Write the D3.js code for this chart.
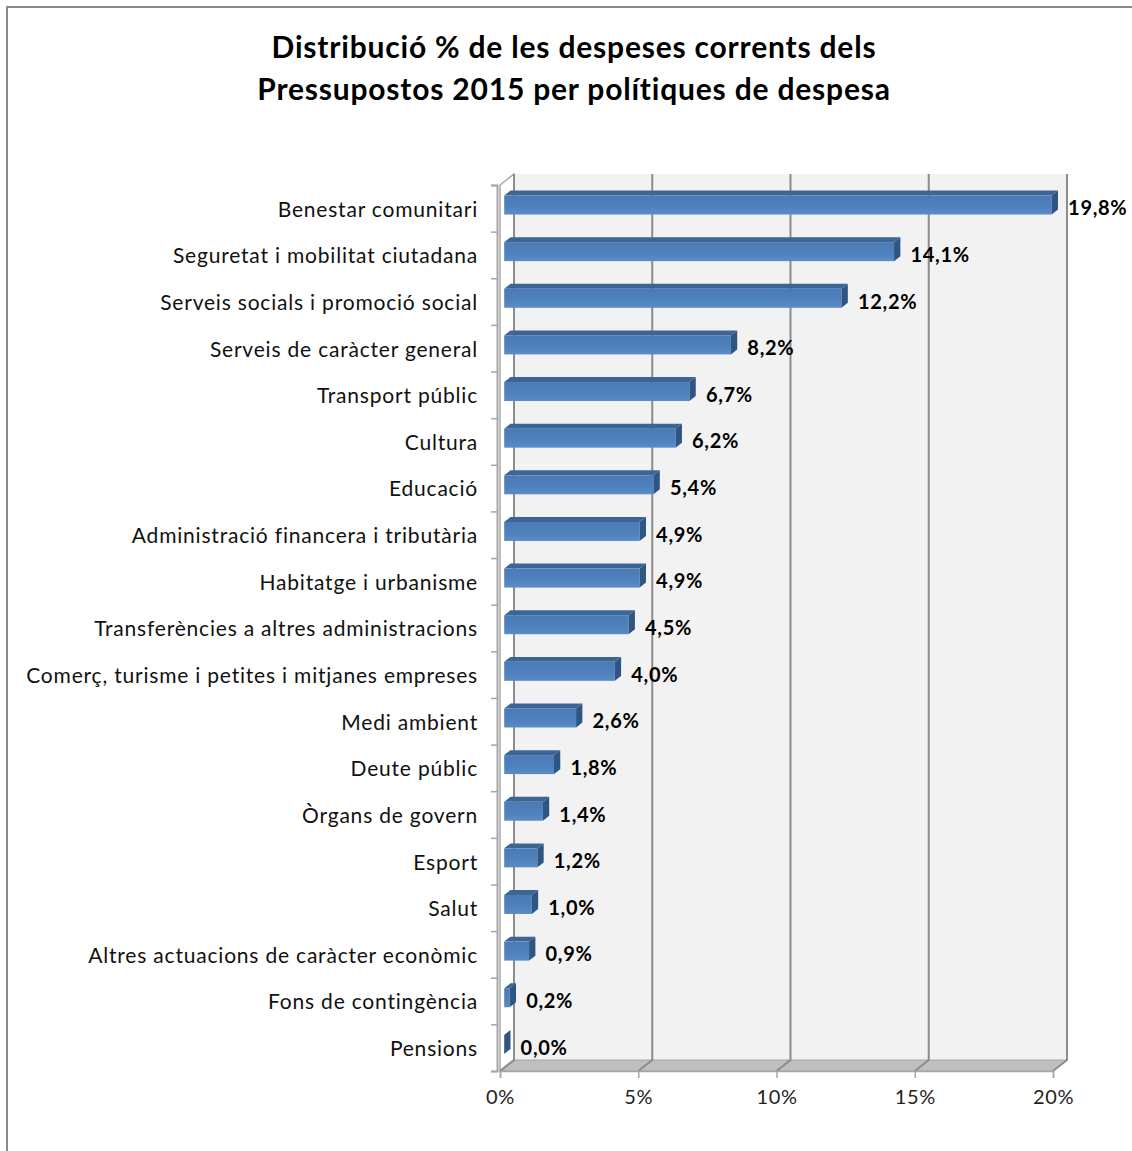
<!DOCTYPE html>
<html>
<head>
<meta charset="utf-8">
<script src="https://cdn.jsdelivr.net/npm/d3@7"></script>
<style>
  body { margin: 0; background: #fff; }
  svg { display: block; }
</style>
</head>
<body>
<script>
// data
var categories = ["Benestar comunitari", "Seguretat i mobilitat ciutadana", "Serveis socials i promoció social",
  "Serveis de caràcter general", "Transport públic", "Cultura", "Educació",
  "Administració financera i tributària", "Habitatge i urbanisme", "Transferències a altres administracions",
  "Comerç, turisme i petites i mitjanes empreses", "Medi ambient", "Deute públic", "Òrgans de govern",
  "Esport", "Salut", "Altres actuacions de caràcter econòmic", "Fons de contingència", "Pensions"];
var values = [19.8, 14.1, 12.2, 8.2, 6.7, 6.2, 5.4, 4.9, 4.9, 4.5, 4.0, 2.6, 1.8, 1.4, 1.2, 1.0, 0.9, 0.2, 0.0];
var tickValues = [0, 5, 10, 15, 20];
var titleLines = ["Distribució % de les despeses corrents dels", "Pressupostos 2015 per polítiques de despesa"];

let w = 1132, h = 1151;
let font = "Lato, 'Open Sans', sans-serif";

// front plane of the 3d box
let pLeft = 500, pRight = 1053, pTop = 185, pBottom = 1071;
let dx = 14, dy = -11;          // depth vector (front -> back)
let d1 = 0.3, d2 = 0.75;        // bar front / back depth

let svg = d3.select("body").append("svg")
  .attr("width", w).attr("height", h);

let defs = svg.append("defs");
let grad = defs.append("linearGradient").attr("id", "barFront")
  .attr("x1", 0).attr("y1", 0).attr("x2", 0).attr("y2", 1);
grad.append("stop").attr("offset", "0%").attr("stop-color", "#4a7bb7");
grad.append("stop").attr("offset", "60%").attr("stop-color", "#4f81bd");
grad.append("stop").attr("offset", "100%").attr("stop-color", "#5a8cc8");

// chart frame (only left & top visible)
svg.append("path")
  .attr("d", "M7," + h + " L7,7 L" + w + ",7")
  .attr("fill", "none").attr("stroke", "#8a8a8a").attr("stroke-width", 2);

// title
svg.append("g").selectAll("text")
  .data(titleLines)
  .enter().append("text")
  .attr("x", 574)
  .attr("y", function(d, i) { return 58 + i * 42; })
  .attr("text-anchor", "middle")
  .attr("font-family", font)
  .attr("font-weight", "bold")
  .attr("font-size", "30px")
  .attr("letter-spacing", "0.8px")
  .attr("fill", "#000")
  .text(function(d) { return d; });

let x = d3.scaleLinear().domain([0, 20]).range([pLeft, pRight]);
let y = d3.scaleBand().domain(categories).range([pTop, pBottom]);
let yIdx = d3.scaleLinear().domain([0, categories.length]).range([pTop, pBottom]);

// back wall
svg.append("rect")
  .attr("x", pLeft + dx).attr("y", pTop + dy)
  .attr("width", pRight - pLeft).attr("height", pBottom - pTop)
  .attr("fill", "#f2f2f2");

// left side wall
svg.append("path")
  .attr("d", "M" + pLeft + "," + pTop + " L" + (pLeft + dx) + "," + (pTop + dy) +
    " L" + (pLeft + dx) + "," + (pBottom + dy) + " L" + pLeft + "," + pBottom + "Z")
  .attr("fill", "#ffffff").attr("stroke", "#a6a6a6").attr("stroke-width", 1.5);

// floor
svg.append("path")
  .attr("d", "M" + pLeft + "," + pBottom + " L" + (pLeft + dx) + "," + (pBottom + dy) +
    " L" + (pRight + dx) + "," + (pBottom + dy) + " L" + pRight + "," + pBottom + "Z")
  .attr("fill", "#bfbfbf").attr("stroke", "#a6a6a6").attr("stroke-width", 1);

// gridlines on back wall + floor
let grid = svg.append("g");
grid.selectAll("path")
  .data(tickValues)
  .enter().append("path")
  .attr("d", function(d) {
    return "M" + (x(d) + dx) + "," + (pTop + dy) + " L" + (x(d) + dx) + "," + (pBottom + dy) +
      " L" + x(d) + "," + pBottom;
  })
  .attr("fill", "none")
  .attr("stroke", "#8c8c8c")
  .attr("stroke-width", 2);

// bottom axis
let xAxis = d3.axisBottom(x)
  .tickValues(tickValues)
  .tickSize(7)
  .tickPadding(8)
  .tickFormat(function(d) { return d + "%"; });
let gx = svg.append("g").attr("transform", "translate(0," + pBottom + ")").call(xAxis);
gx.select(".domain").attr("stroke", "#a6a6a6").attr("stroke-width", 1.5);
gx.selectAll(".tick line").attr("stroke", "#a6a6a6").attr("stroke-width", 1.5);
gx.selectAll(".tick text")
  .attr("font-family", font).attr("font-size", "20px").attr("letter-spacing", "0.6px")
  .attr("fill", "#222").attr("dy", "0.9em");

// left axis (ticks at band edges)
let yAxis = d3.axisLeft(yIdx)
  .tickValues(d3.range(categories.length + 1))
  .tickSize(6)
  .tickFormat("");
let gy = svg.append("g").attr("transform", "translate(" + (pLeft - 3) + ",0)").call(yAxis);
gy.select(".domain").attr("stroke", "#a6a6a6").attr("stroke-width", 2);
gy.selectAll(".tick line").attr("stroke", "#a6a6a6").attr("stroke-width", 1.5);

// category labels
svg.append("g").selectAll("text")
  .data(categories)
  .enter().append("text")
  .attr("x", 478)
  .attr("y", function(d) { return y(d) + y.bandwidth() / 2 + 1; })
  .attr("dy", "0.35em")
  .attr("text-anchor", "end")
  .attr("font-family", font)
  .attr("font-size", "21px")
  .attr("letter-spacing", "0.8px")
  .attr("fill", "#111")
  .text(function(d) { return d; });

// 3d bars
let barH = 19;
let bars = svg.append("g").selectAll("g")
  .data(values)
  .enter().append("g");

function face(d, i) {
  let yc = y(categories[i]) + y.bandwidth() / 2;
  let y0 = yc - barH / 2 + d1 * dy, y1 = yc + barH / 2 + d1 * dy;
  let x0 = x(0) + d1 * dx, x1 = x(d) + d1 * dx;
  let ox = (d2 - d1) * dx, oy = (d2 - d1) * dy;
  return { x0: x0, x1: x1, y0: y0, y1: y1, ox: ox, oy: oy };
}

bars.append("path")   // top
  .attr("d", function(d, i) {
    let f = face(d, i);
    return "M" + f.x0 + "," + f.y0 + " L" + (f.x0 + f.ox) + "," + (f.y0 + f.oy) +
      " L" + (f.x1 + f.ox) + "," + (f.y0 + f.oy) + " L" + f.x1 + "," + f.y0 + "Z";
  })
  .attr("fill", "#3c6596");

bars.append("rect")   // front
  .attr("x", function(d, i) { return face(d, i).x0; })
  .attr("y", function(d, i) { return face(d, i).y0; })
  .attr("width", function(d, i) { let f = face(d, i); return f.x1 - f.x0; })
  .attr("height", barH)
  .attr("fill", "url(#barFront)");

bars.append("path")   // end
  .attr("d", function(d, i) {
    let f = face(d, i);
    return "M" + f.x1 + "," + f.y0 + " L" + (f.x1 + f.ox) + "," + (f.y0 + f.oy) +
      " L" + (f.x1 + f.ox) + "," + (f.y1 + f.oy) + " L" + f.x1 + "," + f.y1 + "Z";
  })
  .attr("fill", "#2f5583");

// value labels
svg.append("g").selectAll("text")
  .data(values)
  .enter().append("text")
  .attr("x", function(d) { return x(d) + 0.83 * dx + 9; })
  .attr("y", function(d, i) { return y(categories[i]) + y.bandwidth() / 2; })
  .attr("dy", "0.35em")
  .attr("font-family", font)
  .attr("font-weight", "bold")
  .attr("font-size", "20px")
  .attr("letter-spacing", "0.7px")
  .attr("fill", "#000")
  .text(function(d) { return d.toFixed(1).replace(".", ",") + "%"; });
</script>
</body>
</html>
